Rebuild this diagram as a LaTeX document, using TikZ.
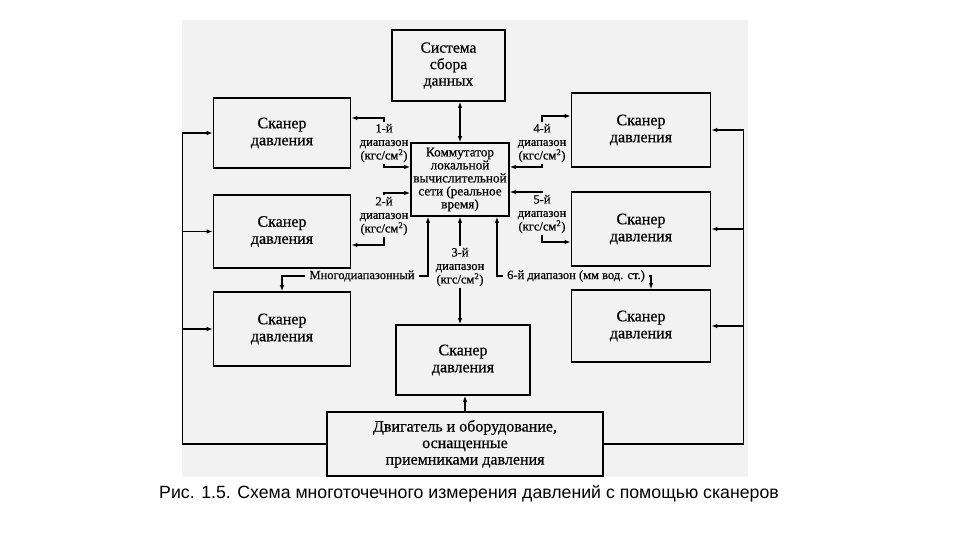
\documentclass[tikz,border=0pt]{standalone}
\usepackage{fontspec}
\setmainfont{Liberation Serif}[FakeBold=0.5]
\newfontfamily\capfont{Liberation Sans}
\usetikzlibrary{arrows.meta}

\begin{document}
\begin{tikzpicture}[x=1pt, y=-1pt, >={Latex[length=6pt,width=4.5pt]},
    blok/.style={draw, line width=1.6pt, inner sep=0pt, align=center},
    skaner/.style={blok, minimum width=137pt, minimum height=72pt, font=\fontsize{16}{17}\selectfont},
    metka/.style={inner xsep=4pt, inner ysep=1.5pt, align=center, font=\fontsize{12.5}{13.5}\selectfont},
    svyaz/.style={line width=1.2pt, ->}]
    \useasboundingbox (0,0) rectangle (960,540);
    \fill[black!5] (182,20) rectangle (748,477);

    % блоки
    \node[blok, minimum width=113pt, minimum height=71pt, font=\fontsize{15.5}{16.5}\selectfont] (sbor) at (448.5,65.5) {Система\\сбора\\данных};
    \node[blok, minimum width=98pt, minimum height=73pt, font=\fontsize{13.2}{13}\selectfont] (komm) at (460,179.5) {Коммутатор\\локальной\\вычислительной\\сети (реальное\\время)};
    \node[skaner, minimum height=70pt] (skan1) at (282,133) {Сканер\\давления};
    \node[skaner, minimum height=73pt] (skan2) at (282,231.5) {Сканер\\давления};
    \node[skaner, minimum height=74pt] (skan3) at (282,329) {Сканер\\давления};
    \node[skaner, minimum width=139pt, minimum height=74pt] (skan4) at (641,130) {Сканер\\давления};
    \node[skaner, minimum width=139pt, minimum height=74pt] (skan5) at (641,229) {Сканер\\давления};
    \node[skaner, minimum width=139pt, minimum height=72pt] (skan6) at (641,326) {Сканер\\давления};
    \node[skaner, minimum width=134pt, minimum height=70pt] (skan7) at (463,360) {Сканер\\давления};
    \node[blok, minimum width=276pt, minimum height=64pt, font=\fontsize{16}{16.5}\selectfont] (motor) at (465,444) {Двигатель и оборудование,\\оснащенные\\приемниками давления};

    % подписи диапазонов
    \node[metka] (d1) at (384,143) {1-й\\диапазон\\(кгс/см\textsuperscript{2})};
    \node[metka] (d2) at (384,216) {2-й\\диапазон\\(кгс/см\textsuperscript{2})};
    \node[metka] (d3) at (460,267) {3-й\\диапазон\\(кгс/см\textsuperscript{2})};
    \node[metka] (d4) at (542,143) {4-й\\диапазон\\(кгс/см\textsuperscript{2})};
    \node[metka] (d5) at (542,214) {5-й\\диапазон\\(кгс/см\textsuperscript{2})};
    \node[metka] (mnogo) at (362,276) {Многодиапазонный};
    \node[metka] (d6) at (576,276) {6-й диапазон (мм вод. ст.)};

    % связи коммутатора
    \draw[svyaz, <->] (sbor.south -| komm.north) -- (komm.north);
    \draw[svyaz] (d1.north) |- ([yshift=15pt]skan1.east);
    \draw[svyaz] (d1.south) |- ([yshift=12.5pt]komm.west);
    \draw[svyaz] (d2.north) |- ([yshift=-13.5pt]komm.west);
    \draw[svyaz] (d2.south) |- ([yshift=-13.5pt]skan2.east);
    \draw[svyaz] (d4.north) |- ([yshift=14pt]skan4.west);
    \draw[svyaz] (d4.south) |- ([yshift=12.5pt]komm.east);
    \draw[svyaz] (d5.north) |- ([yshift=-12.5pt]komm.east);
    \draw[svyaz] (d5.south) |- ([yshift=-13pt]skan5.west);
    \draw[svyaz] (d3.north) -- (komm.south);
    \draw[svyaz] (d3.south) -- (d3.south |- skan7.north);
    \draw[svyaz] (mnogo.east) -| ([xshift=-32pt]komm.south);
    \draw[svyaz] (mnogo.west) -| (skan3.north);
    \draw[svyaz] (d6.west) -| ([xshift=37pt]komm.south);
    \draw[svyaz] (d6.east) -| ([xshift=10pt]skan6.north);

    % от двигателя к сканерам
    \draw[svyaz] (motor.north) -- (motor.north |- skan7.south);
    \draw[svyaz] (motor.west) -| ([xshift=-30pt]skan1.west) -- (skan1.west);
    \draw[svyaz] ([xshift=-30pt]skan2.west) -- (skan2.west);
    \draw[svyaz] ([xshift=-30pt]skan3.west) -- (skan3.west);
    \draw[svyaz] (motor.east) -| ([xshift=32pt]skan4.east) -- (skan4.east);
    \draw[svyaz] ([xshift=32pt]skan5.east) -- (skan5.east);
    \draw[svyaz] ([xshift=32pt]skan6.east) -- (skan6.east);

    \node[font=\capfont\fontsize{17.7}{20}\selectfont] (podpis) at (469,494) {Рис. 1.5. Схема многоточечного измерения давлений с помощью сканеров};
\end{tikzpicture}
\end{document}
